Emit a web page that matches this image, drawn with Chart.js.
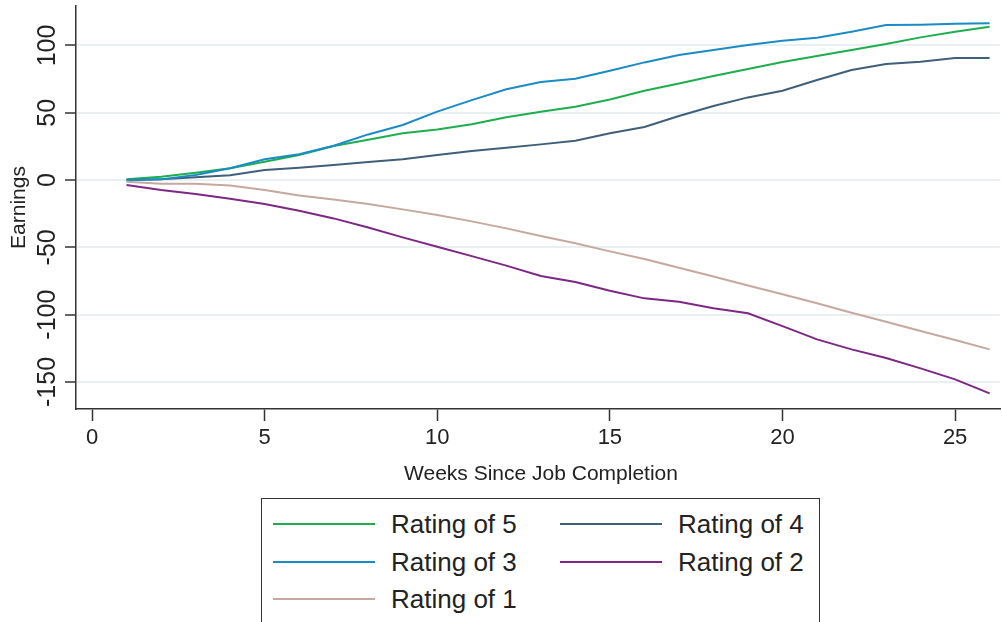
<!DOCTYPE html>
<html><head><meta charset="utf-8">
<script src="https://cdn.jsdelivr.net/npm/chart.js@4.4.1/dist/chart.umd.min.js"></script>
<style>
html,body{margin:0;padding:0;background:#fff;overflow:hidden}
#wrap{position:relative;width:1002px;height:622px}
#legend{position:absolute;left:261px;top:498px;width:559px;height:200px;border:1.5px solid #333;box-sizing:border-box;font-family:"Liberation Sans",Arial,sans-serif;font-size:26px;color:#222;background:#fff}
.ln{position:absolute;height:2px}
.tx{position:absolute;line-height:30px;white-space:nowrap}
</style></head><body>
<div id="wrap"><canvas id="c" width="1002" height="622"></canvas><div id="legend"></div></div>
<script>
const weeks = [1,2,3,4,5,6,7,8,9,10,11,12,13,14,15,16,17,18,19,20,21,22,23,24,25,26];
const seriesLabels = ["Rating of 5","Rating of 4","Rating of 3","Rating of 2","Rating of 1"];
const rating5 = [0.5,2.5,5.4,8.7,13.6,18.6,25.3,29.9,34.7,37.6,41.4,46.6,50.8,54.5,59.9,66.4,71.8,77.3,82.5,87.7,92.1,96.6,101.0,106.0,110.2,113.9];
const rating4 = [0,0.5,2,3.5,7.4,9.2,11.1,13.4,15.4,18.6,21.5,24,26.5,29.2,34.7,39.4,47.6,55,61.4,66.4,74.3,81.7,86.2,87.9,90.6,90.6];
const rating3 = [-0.2,0.5,3.7,8.7,15.4,19.1,25.5,33.9,40.9,50.8,59.4,67.4,72.8,75.3,81.2,87.4,92.9,96.6,100.3,103.5,105.7,110.2,115.1,115.4,116.1,116.4];
const rating2 = [-3.7,-7.4,-10.4,-13.9,-17.8,-22.8,-28.5,-35.3,-42.6,-49.5,-56.5,-63.6,-71.3,-75.8,-82.2,-87.9,-90.4,-95.3,-99,-108.5,-118.4,-125.8,-132.2,-139.9,-148.1,-158.5];
const rating1 = [-1.2,-2.7,-2.7,-4,-7.4,-11.4,-14.4,-17.8,-21.8,-26,-30.7,-35.9,-41.6,-47,-53,-58.7,-65.1,-71.6,-78.3,-84.9,-91.6,-98.6,-105.3,-112.2,-118.9,-125.8];
const xTicks = [0,5,10,15,20,25];
const yTicks = [-150,-100,-50,0,50,100];
const yTickLabels = ["-150","-100","-50","0","50","100"];
const xTitle = "Weeks Since Job Completion";
const yTitle = "Earnings";

const colors = ["#1eae4e","#3f5f7a","#1a8bc5","#7d2884","#c6a89e"];
const values = [rating5, rating4, rating3, rating2, rating1];
const FONT = '"Liberation Sans", Arial, sans-serif';

const textPlugin = {
  id:'texts',
  afterDraw(chart){
    const c = chart.ctx, ys = chart.scales.y, a = chart.chartArea;
    c.save();
    c.fillStyle = '#222';
    c.font = '25px ' + FONT;
    c.textAlign = 'center'; c.textBaseline = 'alphabetic';
    yTicks.forEach((v,i)=>{
      const y = ys.getPixelForValue(v);
      c.save(); c.translate(55, y); c.rotate(-Math.PI/2); c.fillText(yTickLabels[i],0,0); c.restore();
    });
    c.font = '21px ' + FONT;
    c.save(); c.translate(25, (a.top+a.bottom)/2); c.rotate(-Math.PI/2); c.fillText(yTitle,0,0); c.restore();
    c.fillText(xTitle, 541, 480);
    c.restore();
  }
};

const chart = new Chart(document.getElementById('c').getContext('2d'), {
  type:'line',
  data:{
    datasets: seriesLabels.map((lab,k)=>({
      label: lab,
      data: weeks.map((w,i)=>({x:w, y:values[k][i]})),
      borderColor: colors[k], backgroundColor: colors[k],
      borderWidth: 2, pointRadius: 0, fill:false, tension:0,
      order: seriesLabels.length - k
    }))
  },
  options:{
    responsive:false, animation:false,
    layout:{padding:{top:6,left:0,right:2,bottom:113}},
    plugins:{legend:{display:false}, tooltip:{enabled:false}, title:{display:false}},
    scales:{
      x:{
        type:'linear', min:-0.4635, max:26.3,
        afterBuildTicks: s=>{ s.ticks = xTicks.map(v=>({value:v})); },
        afterFit: s=>{ s.height = 100; },
        grid:{drawOnChartArea:false, tickLength:12, tickColor:'#333', tickWidth:1.5},
        border:{display:true, color:'#333', width:1.5},
        ticks:{font:{family:FONT, size:22}, color:'#222', padding:4, maxRotation:0, minRotation:0}
      },
      y:{
        type:'linear', min:-170.1, max:129.3,
        afterBuildTicks: s=>{ s.ticks = yTicks.map(v=>({value:v})); },
        afterFit: s=>{ s.width = 76; },
        grid:{color:'#e8f0f2', lineWidth:2, tickLength:11, tickColor:'#333', tickWidth:1.5},
        border:{display:true, color:'#333', width:1.5},
        ticks:{display:false}
      }
    }
  },
  plugins:[textPlugin]
});

// legend built from the chart's datasets
const leg = document.getElementById('legend');
const rowY = [25, 63, 100];
const colLine = [11, 298], colText = [129, 416];
chart.data.datasets.forEach((ds,i)=>{
  const r = Math.floor(i/2), col = i%2;
  const ln = document.createElement('div');
  ln.className='ln'; ln.style.left=colLine[col]+'px'; ln.style.width='102px';
  ln.style.top=(rowY[r]-1)+'px'; ln.style.background=ds.borderColor;
  const tx = document.createElement('div');
  tx.className='tx'; tx.style.left=colText[col]+'px'; tx.style.top=(rowY[r]-15)+'px';
  tx.textContent = ds.label;
  leg.appendChild(ln); leg.appendChild(tx);
});
</script>
</body></html>
